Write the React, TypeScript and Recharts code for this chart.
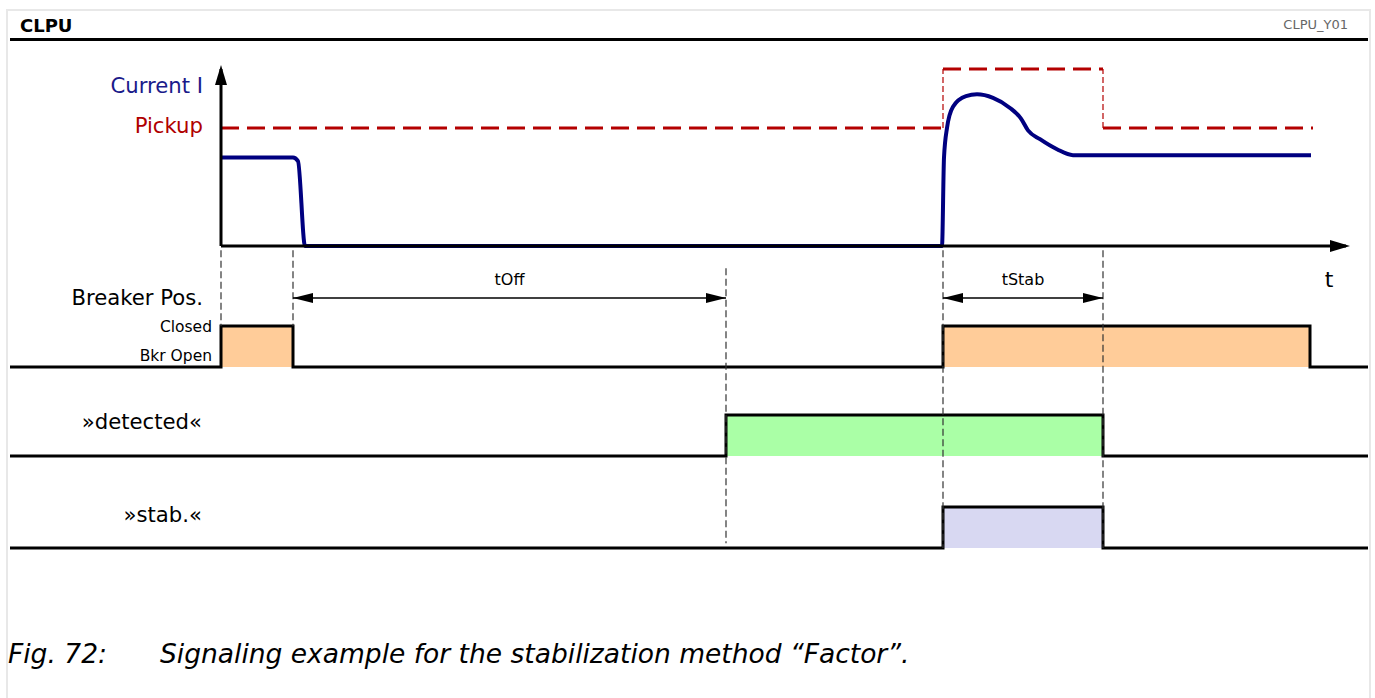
import { Area, ComposedChart, Line, ReferenceLine, XAxis, YAxis } from "recharts";

// time in 0.1 s-ish units, 0 = start of the current trace
const currentT = [0, 7.2, 7.7, 8.4, 72.1, 72.3, 72.6, 73.2, 74.5, 75.6, 77.2, 78.9, 80.0, 80.7, 81.9, 83.6, 85.2, 109.0];
// current in multiples of the pickup value
const currentI = [0.75, 0.75, 0.72, 0, 0, 0.75, 1.0, 1.18, 1.27, 1.285, 1.255, 1.17, 1.08, 0.98, 0.905, 0.82, 0.77, 0.77];

const pickupBefore = { t: [0, 72.2], v: [1, 1] };
const pickupRaised = { t: [72.2, 88.2], v: [1.5, 1.5] };
const pickupAfter = { t: [88.2, 109.2], v: [1, 1] };

const rowT0 = -21.1;
const rowT1 = 114.7;
const breakerT = [rowT0, 0, 7.2, 72.2, 108.9, rowT1];
const breakerV = [0, 1, 0, 1, 0, 0];
const detectedT = [rowT0, 50.5, 88.2, rowT1];
const detectedV = [0, 1, 0, 0];
const stabT = [rowT0, 72.2, 88.2, rowT1];
const stabV = [0, 1, 0, 0];

// dashed guides, heights in breaker-row units
const guideT = [0, 7.2, 50.5, 72.2, 88.2];
const guideTop = [2.85, 2.85, 2.41, 2.85, 2.85];
const guideBottom = [1, 1, -4.3, -4.415, -4.415];

const dims = [
  { label: "tOff", from: 7.2, to: 50.5 },
  { label: "tStab", from: 72.2, to: 88.2 },
];
const dimLevel = 1.683;

const toRows = (t: number[], v: number[]) => t.map((x, i) => ({ t: x, v: v[i] }));

const PLOT_TOP = 250;
const PLOT_BOTTOM = 560;
const rowDomain = (base: number, high: number): [number, number] => {
  const p = base - high;
  return [-(PLOT_BOTTOM - base) / p, (base - PLOT_TOP) / p];
};

const dimShape = (label: string) => (p: any) => {
  const { x1, y1, x2 } = p;
  const L = 20;
  const H = 5;
  return (
    <g>
      <line x1={x1} y1={y1} x2={x2} y2={y1} stroke="#000" strokeWidth={1.3} />
      <path d={`M${x1},${y1} L${x1 + L},${y1 - H} L${x1 + L},${y1 + H} z`} fill="#000" />
      <path d={`M${x2},${y1} L${x2 - L},${y1 - H} L${x2 - L},${y1 + H} z`} fill="#000" />
      <text x={(x1 + x2) / 2} y={y1 - 13} textAnchor="middle" fontSize={16} fill="#000">
        {label}
      </text>
    </g>
  );
};

const font = '"DejaVu Sans", sans-serif';
const LABEL = 21.2;

const CurrentChart = () => (
  <ComposedChart width={1375} height={300} margin={{ top: 69, right: 29, bottom: 24, left: 0 }}>
    <defs>
      <marker
        id="axisArrow"
        viewBox="0 0 20 12"
        refX={16}
        refY={6}
        markerWidth={20}
        markerHeight={12}
        markerUnits="userSpaceOnUse"
        orient="auto-start-reverse"
      >
        <path d="M0,0 L20,6 L0,12 z" fill="#000" />
      </marker>
    </defs>
    <XAxis
      type="number"
      dataKey="t"
      domain={[0, 112.5]}
      allowDataOverflow
      tick={false}
      tickLine={false}
      height={30}
      axisLine={{ stroke: "#000", strokeWidth: 3, markerEnd: "url(#axisArrow)" } as any}
    />
    <YAxis
      type="number"
      domain={[0, 1.5]}
      width={221}
      tick={false}
      tickLine={false}
      axisLine={{ stroke: "#000", strokeWidth: 3, markerStart: "url(#axisArrow)" } as any}
    />
    {[pickupBefore, pickupRaised, pickupAfter].map((s, i) => (
      <Line
        key={i}
        data={toRows(s.t, s.v)}
        dataKey="v"
        type="linear"
        stroke="#b40000"
        strokeWidth={3}
        strokeDasharray="18 8"
        dot={false}
        activeDot={false}
        isAnimationActive={false}
      />
    ))}
    {[72.2, 88.2].map((t) => (
      <ReferenceLine
        key={t}
        segment={[
          { x: t, y: 1 },
          { x: t, y: 1.5 },
        ]}
        stroke="#b40000"
        strokeWidth={1.2}
        strokeDasharray="6 3"
        ifOverflow="visible"
      />
    ))}
    <Line
      data={toRows(currentT, currentI)}
      dataKey="v"
      type="monotone"
      stroke="#000080"
      strokeWidth={4}
      dot={false}
      activeDot={false}
      isAnimationActive={false}
    />
    <text x={20} y={32} fontSize={18} fontWeight="bold" fill="#000">CLPU</text>
    <text x={1348} y={29} fontSize={13} fill="#666" textAnchor="end">CLPU_Y01</text>
    <text x={203} y={93} fontSize={LABEL} fill="#1a1a8a" textAnchor="end">Current I</text>
    <text x={203} y={133} fontSize={LABEL} fill="#b00000" textAnchor="end">Pickup</text>
    <text x={1329} y={287} fontSize={22} fill="#000" textAnchor="middle">t</text>
  </ComposedChart>
);

const SignalChart = () => (
  <ComposedChart width={1375} height={698} margin={{ top: PLOT_TOP, right: 7, bottom: 698 - PLOT_BOTTOM, left: 10 }}>
    <XAxis type="number" dataKey="t" domain={[rowT0, rowT1]} allowDataOverflow hide />
    <YAxis yAxisId="bkr" type="number" domain={rowDomain(367, 326)} allowDataOverflow hide />
    <YAxis yAxisId="det" type="number" domain={rowDomain(456, 415)} allowDataOverflow hide />
    <YAxis yAxisId="stab" type="number" domain={rowDomain(548, 507)} allowDataOverflow hide />
    {guideT.map((t, i) => (
      <ReferenceLine
        key={"g" + i}
        yAxisId="bkr"
        segment={[
          { x: t, y: guideTop[i] },
          { x: t, y: guideBottom[i] },
        ]}
        stroke="#333"
        strokeWidth={1.2}
        strokeDasharray="7 3.5"
        ifOverflow="visible"
      />
    ))}
    <Area
      yAxisId="bkr"
      data={toRows(breakerT, breakerV)}
      dataKey="v"
      type="stepAfter"
      fill="#ffcc99"
      fillOpacity={1}
      stroke="#000"
      strokeWidth={3}
      dot={false}
      activeDot={false}
      isAnimationActive={false}
    />
    <Area
      yAxisId="det"
      data={toRows(detectedT, detectedV)}
      dataKey="v"
      type="stepAfter"
      fill="#aaffa6"
      fillOpacity={1}
      stroke="#000"
      strokeWidth={3}
      dot={false}
      activeDot={false}
      isAnimationActive={false}
    />
    <Area
      yAxisId="stab"
      data={toRows(stabT, stabV)}
      dataKey="v"
      type="stepAfter"
      fill="#d8d8f2"
      fillOpacity={1}
      stroke="#000"
      strokeWidth={3}
      dot={false}
      activeDot={false}
      isAnimationActive={false}
    />
    {dims.map((d) => (
      <ReferenceLine
        key={d.label}
        yAxisId="bkr"
        segment={[
          { x: d.from, y: dimLevel },
          { x: d.to, y: dimLevel },
        ]}
        ifOverflow="visible"
        shape={dimShape(d.label)}
      />
    ))}
    <text x={203} y={305} fontSize={LABEL} fill="#000" textAnchor="end">Breaker Pos.</text>
    <text x={212} y={332} fontSize={15.5} fill="#000" textAnchor="end">Closed</text>
    <text x={212} y={361} fontSize={15.5} fill="#000" textAnchor="end">Bkr Open</text>
    <text x={202} y={429} fontSize={LABEL} fill="#000" textAnchor="end">»detected«</text>
    <text x={202} y={522} fontSize={LABEL} fill="#000" textAnchor="end">»stab.«</text>
    <text x={8} y={663} fontSize={26.5} fontStyle="italic" fill="#000">
      Fig. 72:
    </text>
    <text x={160} y={663} fontSize={26.5} fontStyle="italic" fill="#000">
      Signaling example for the stabilization method “Factor”.
    </text>
  </ComposedChart>
);

export default function App() {
  return (
    <div style={{ position: "absolute", left: 0, top: 0, width: 1375, height: 698, background: "#fff", fontFamily: font, overflow: "hidden" }}>
      <div
        style={{
          position: "absolute",
          left: 6,
          top: 9,
          width: 1361,
          height: 700,
          borderTop: "2px solid #e8e8e8",
          borderLeft: "2px solid #e8e8e8",
          borderRight: "2px solid #e8e8e8",
        }}
      />
      <div style={{ position: "absolute", left: 10, top: 38, width: 1358, height: 3, background: "#000" }} />
      <div style={{ position: "absolute", left: 0, top: 0 }}>
        <CurrentChart />
      </div>
      <div style={{ position: "absolute", left: 0, top: 0 }}>
        <SignalChart />
      </div>
    </div>
  );
}
